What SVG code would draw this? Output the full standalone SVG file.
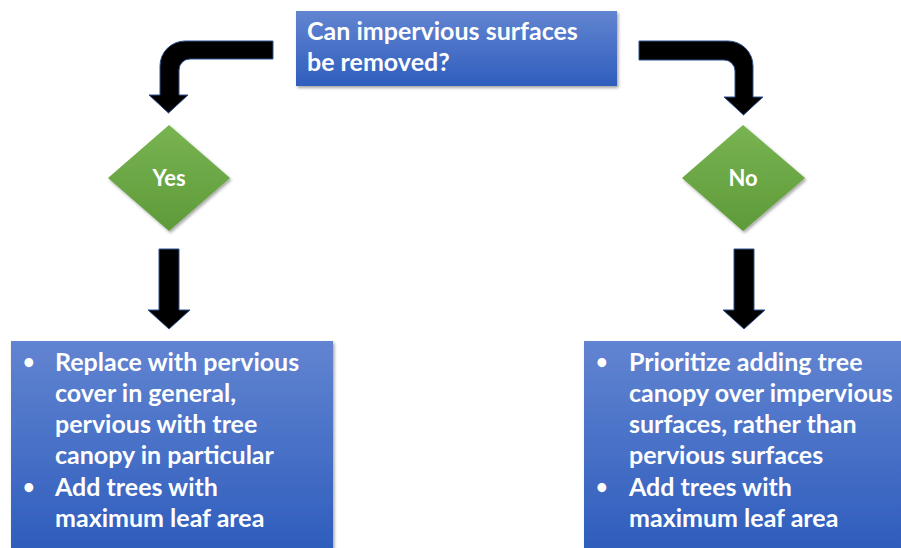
<svg xmlns="http://www.w3.org/2000/svg" width="901" height="548" viewBox="0 0 901 548">
<defs>
<linearGradient id="blue" x1="0" y1="0" x2="0" y2="1">
<stop offset="0" stop-color="#6284d1"/>
<stop offset="1" stop-color="#2f5ebd"/>
</linearGradient>
<linearGradient id="blueTall" gradientUnits="userSpaceOnUse" x1="0" y1="341" x2="0" y2="548">
<stop offset="0" stop-color="#6284d1"/>
<stop offset="1" stop-color="#2f5ebd"/>
</linearGradient>
<linearGradient id="green" x1="0" y1="0" x2="0" y2="1">
<stop offset="0" stop-color="#78b451"/>
<stop offset="1" stop-color="#5e9a39"/>
</linearGradient>
<filter id="sh" x="-10%" y="-10%" width="125%" height="130%">
<feDropShadow dx="1.5" dy="2" stdDeviation="1.8" flood-color="#000" flood-opacity="0.35"/>
</filter>
</defs>
<style>
.box{fill:url(#blue);filter:url(#sh)}
.boxb{fill:url(#blueTall);filter:url(#sh)}
.dia{fill:url(#green);filter:url(#sh)}
.arr{fill:#000;stroke:#2f528f;stroke-width:1}
.t{font-family:Lato,"Open Sans","Liberation Sans",sans-serif;font-weight:bold;fill:#fff}
.q{font-size:25px}
.b{font-size:25px}
.bu{font-size:20px}
.d{font-size:22px;text-anchor:middle}
</style>
<rect width="901" height="548" fill="#fff"/>
<g id="connectors">
<path class="arr" d="M273,41 H185 A25,25 0 0 0 160,66 V95 H149 L168.5,113 L188,95 H179 V70 A11,11 0 0 1 190,59 H273 Z"/>
<path class="arr" d="M639,41 H728 A25,25 0 0 1 753,66 V97 H763 L743.5,115 L724,97 H735 V71 A11,11 0 0 0 724,60 H639 Z"/>
<path class="arr" d="M159,249 H179 V310 H190 L169,329 L148,310 H159 Z"/>
<path class="arr" d="M734,249 H754 V310 H765 L744,329 L723,310 H734 Z"/>
</g>
<g id="question">
<rect class="box" x="296" y="11" width="321" height="75"/>
<text class="t q" x="307" y="40">Can impervious surfaces</text>
<text class="t q" x="307" y="71">be removed?</text>
</g>
<g id="yes">
<polygon class="dia" points="169,125 230,178 169,231 108,178"/>
<text class="t d" x="169" y="186">Yes</text>
</g>
<g id="no">
<polygon class="dia" points="743,125 805,178 743,231 682,178"/>
<text class="t d" x="743" y="186">No</text>
</g>
<g id="yes-actions">
<rect class="boxb" x="11" y="341" width="322" height="215"/>
<text class="t bu" x="23" y="369">•</text>
<text class="t b" x="55" y="371">Replace with pervious</text>
<text class="t b" x="55" y="402">cover in general,</text>
<text class="t b" x="55" y="433">pervious with tree</text>
<text class="t b" x="55" y="464">canopy in particular</text>
<text class="t bu" x="23" y="494">•</text>
<text class="t b" x="55" y="496">Add trees with</text>
<text class="t b" x="55" y="527">maximum leaf area</text>
</g>
<g id="no-actions">
<rect class="boxb" x="584" y="341" width="330" height="215"/>
<text class="t bu" x="596" y="369">•</text>
<text class="t b" x="629" y="371">Prioritize adding tree</text>
<text class="t b" x="629" y="402">canopy over impervious</text>
<text class="t b" x="629" y="433">surfaces, rather than</text>
<text class="t b" x="629" y="464">pervious surfaces</text>
<text class="t bu" x="596" y="494">•</text>
<text class="t b" x="629" y="496">Add trees with</text>
<text class="t b" x="629" y="527">maximum leaf area</text>
</g>
</svg>
